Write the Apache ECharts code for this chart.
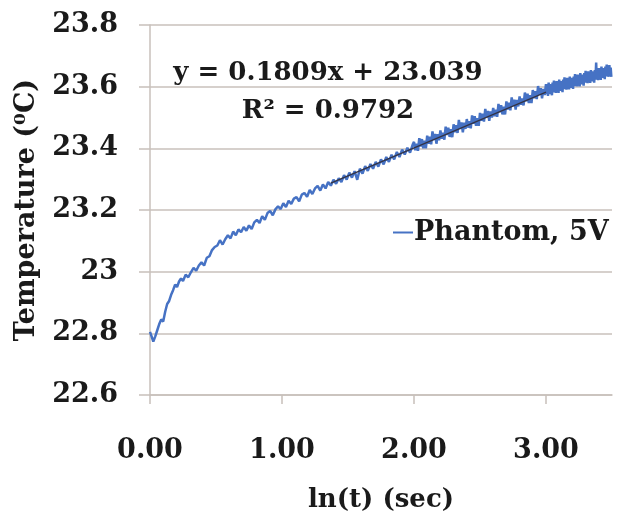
<!DOCTYPE html>
<html>
<head>
<meta charset="utf-8">
<script src="https://cdn.jsdelivr.net/npm/echarts@6/dist/echarts.min.js"></script>
<style>html,body{margin:0;padding:0;background:#fff;}#chart{width:618px;height:517px;}</style>
</head>
<body>
<div id="chart"></div>
<script>
// ---- data ----
const seriesName = 'Phantom, 5V';
const xTitle = 'ln(t) (sec)';
const yTitle = 'Temperature (\u2070C)';
const eqLine1 = 'y = 0.1809x + 23.039';
const eqLine2 = 'R\u00B2 = 0.9792';
const xTicks = [0, 1, 2, 3];
const yRange = [22.6, 23.8];

const segA = [[0.000,22.805],[0.012,22.79],[0.025,22.773],[0.04,22.79],[0.055,22.81],[0.07,22.83],[0.085,22.845],[0.1,22.838],[0.115,22.87],[0.13,22.895],[0.145,22.905],[0.16,22.925],[0.175,22.94],[0.19,22.958],[0.205,22.95],[0.22,22.968],[0.235,22.978],[0.25,22.97],[0.27,22.99],[0.29,22.982],[0.31,22.998],[0.33,23.012],[0.35,23.003],[0.37,23.02],[0.39,23.03],[0.41,23.02],[0.43,23.045],[0.45,23.05],[0.47,23.07],[0.49,23.08],[0.51,23.085],[0.53,23.102],[0.55,23.088],[0.57,23.105],[0.59,23.118],[0.61,23.108],[0.63,23.13],[0.65,23.118],[0.67,23.137],[0.69,23.128],[0.71,23.145],[0.73,23.133],[0.75,23.15],[0.77,23.138],[0.79,23.16],[0.81,23.168],[0.83,23.158],[0.85,23.18],[0.87,23.168],[0.89,23.19],[0.91,23.197],[0.93,23.183],[0.95,23.202],[0.97,23.212],[0.99,23.203]];

const segB = [[1.01,23.222],[1.03,23.21],[1.05,23.23],[1.07,23.22],[1.09,23.237],[1.11,23.242],[1.13,23.228],[1.15,23.25],[1.17,23.255],[1.19,23.243],[1.21,23.265],[1.23,23.252],[1.25,23.27],[1.27,23.278],[1.29,23.263],[1.31,23.283],[1.33,23.27],[1.35,23.291],[1.37,23.279],[1.39,23.298],[1.41,23.285],[1.43,23.303],[1.45,23.291],[1.47,23.313],[1.49,23.299],[1.51,23.321],[1.53,23.305],[1.55,23.326],[1.57,23.298],[1.59,23.334],[1.61,23.318],[1.63,23.342],[1.65,23.327],[1.67,23.349],[1.69,23.334],[1.71,23.356],[1.73,23.341],[1.75,23.364],[1.77,23.348],[1.79,23.372],[1.81,23.356],[1.83,23.379],[1.85,23.364],[1.87,23.388],[1.89,23.372],[1.91,23.396],[1.93,23.38],[1.95,23.402],[1.97,23.386],[1.99,23.412]];

const segC = [[2.00,23.421],[2.01,23.394],[2.02,23.415],[2.03,23.392],[2.04,23.433],[2.05,23.406],[2.06,23.430],[2.07,23.400],[2.08,23.425],[2.09,23.400],[2.10,23.441],[2.11,23.415],[2.12,23.438],[2.13,23.413],[2.14,23.455],[2.15,23.427],[2.16,23.447],[2.17,23.415],[2.18,23.446],[2.19,23.426],[2.20,23.458],[2.21,23.431],[2.22,23.451],[2.23,23.428],[2.24,23.470],[2.25,23.443],[2.26,23.467],[2.27,23.437],[2.28,23.462],[2.29,23.436],[2.30,23.478],[2.31,23.452],[2.32,23.475],[2.33,23.450],[2.34,23.492],[2.35,23.463],[2.36,23.484],[2.37,23.452],[2.38,23.483],[2.39,23.463],[2.40,23.495],[2.41,23.467],[2.42,23.488],[2.43,23.465],[2.44,23.507],[2.45,23.480],[2.46,23.504],[2.47,23.473],[2.48,23.498],[2.49,23.473],[2.50,23.515],[2.51,23.489],[2.52,23.512],[2.53,23.487],[2.54,23.528],[2.55,23.500],[2.56,23.521],[2.57,23.489],[2.58,23.520],[2.59,23.500],[2.60,23.531],[2.61,23.504],[2.62,23.525],[2.63,23.502],[2.64,23.544],[2.65,23.517],[2.66,23.540],[2.67,23.510],[2.68,23.535],[2.69,23.510],[2.70,23.552],[2.71,23.526],[2.72,23.548],[2.73,23.523],[2.74,23.565],[2.75,23.537],[2.76,23.558],[2.77,23.526],[2.78,23.557],[2.79,23.536],[2.80,23.568],[2.81,23.541],[2.82,23.562],[2.83,23.539],[2.84,23.581],[2.85,23.553],[2.86,23.577],[2.87,23.547],[2.88,23.572],[2.89,23.547],[2.90,23.589],[2.91,23.562],[2.92,23.585],[2.93,23.560],[2.94,23.602],[2.95,23.574],[2.96,23.595],[2.97,23.562],[2.98,23.593],[2.99,23.573]];

const segD = [[3.000,23.608],[3.005,23.576],[3.010,23.599],[3.015,23.570],[3.020,23.613],[3.025,23.583],[3.030,23.608],[3.035,23.576],[3.040,23.601],[3.045,23.572],[3.050,23.613],[3.055,23.585],[3.060,23.620],[3.065,23.581],[3.070,23.609],[3.075,23.580],[3.080,23.618],[3.085,23.586],[3.090,23.610],[3.095,23.580],[3.100,23.623],[3.105,23.594],[3.110,23.618],[3.115,23.586],[3.120,23.612],[3.125,23.582],[3.130,23.623],[3.135,23.596],[3.140,23.630],[3.145,23.592],[3.150,23.620],[3.155,23.590],[3.160,23.629],[3.165,23.596],[3.170,23.620],[3.175,23.591],[3.180,23.633],[3.185,23.604],[3.190,23.629],[3.195,23.596],[3.200,23.622],[3.205,23.593],[3.210,23.633],[3.215,23.606],[3.220,23.641],[3.225,23.602],[3.230,23.630],[3.235,23.601],[3.240,23.639],[3.245,23.607],[3.250,23.631],[3.255,23.601],[3.260,23.644],[3.265,23.614],[3.270,23.639],[3.275,23.607],[3.280,23.632],[3.285,23.603],[3.290,23.644],[3.295,23.616],[3.300,23.651],[3.305,23.613],[3.310,23.640],[3.315,23.611],[3.320,23.650],[3.325,23.617],[3.330,23.641],[3.335,23.612],[3.340,23.654],[3.345,23.625],[3.350,23.650],[3.355,23.617],[3.360,23.643],[3.365,23.613],[3.370,23.654],[3.375,23.627],[3.380,23.678],[3.385,23.623],[3.390,23.651],[3.395,23.621],[3.400,23.660],[3.405,23.628],[3.410,23.651],[3.415,23.622],[3.420,23.665],[3.425,23.635],[3.430,23.660],[3.435,23.628],[3.440,23.653],[3.445,23.624],[3.450,23.665],[3.455,23.637],[3.460,23.672],[3.465,23.633],[3.470,23.661],[3.475,23.632],[3.480,23.670],[3.485,23.638],[3.490,23.662],[3.495,23.632]];

const trendLine = [[1.37, 23.287], [3.0, 23.582]];

// ---- chart ----
const FONT = 'DejaVu Serif';
const TXT = '#1a1a1a';
const GRID = '#c8c0bb';
const measured = segA.concat(segB, segC, segD);

const chart = echarts.init(document.getElementById('chart'), null, {renderer: 'canvas'});
chart.setOption({
  animation: false,
  backgroundColor: '#ffffff',
  grid: {left: 150, right: 6, top: 25, bottom: 122, containLabel: false, outerBoundsMode: 'none'},
  legend: {
    data: [seriesName],
    left: 388, top: 214,
    icon: 'rect', itemWidth: 20, itemHeight: 2, itemGap: 0,
    textStyle: {fontFamily: FONT, fontWeight: 'bold', fontSize: 27, color: TXT, padding: [0,0,0,-4]}
  },
  xAxis: {
    type: 'value', min: 0, max: 3.5, interval: 1,
    name: xTitle, nameLocation: 'middle', nameGap: 92,
    nameTextStyle: {fontFamily: FONT, fontWeight: 'bold', fontSize: 26, color: TXT},
    axisLine: {show: true, lineStyle: {color: GRID, width: 1.5}},
    axisTick: {show: true, length: 9, lineStyle: {color: GRID, width: 1.5}, customValues: xTicks},
    axisLabel: {fontFamily: FONT, fontWeight: 'bold', fontSize: 27, color: TXT, margin: 42,
      customValues: xTicks, formatter: v => v.toFixed(2)},
    splitLine: {show: false}
  },
  yAxis: {
    type: 'value', min: yRange[0], max: yRange[1], interval: 0.2,
    name: yTitle, nameLocation: 'middle', nameRotate: 90, nameGap: 110,
    nameTextStyle: {fontFamily: FONT, fontWeight: 'bold', fontSize: 27, color: TXT},
    axisLine: {show: true, lineStyle: {color: GRID, width: 1.5}},
    axisTick: {show: true, length: 11, lineStyle: {color: GRID, width: 1.5}},
    axisLabel: {fontFamily: FONT, fontWeight: 'bold', fontSize: 27, color: TXT, margin: 32,
      formatter: v => (Math.abs(v - Math.round(v)) < 1e-9 ? String(Math.round(v)) : v.toFixed(1))},
    splitLine: {show: true, lineStyle: {color: GRID, width: 1.5}}
  },
  series: [
    {name: seriesName, type: 'line', data: measured, showSymbol: false, symbol: 'none',
      lineStyle: {color: '#4672c4', width: 2.5}, itemStyle: {color: '#4672c4'}, z: 2},
    {name: 'Linear fit', type: 'line', data: trendLine, showSymbol: false, symbol: 'none',
      lineStyle: {color: '#333344', width: 1.3}, z: 3, silent: true}
  ],
  graphic: [
    {type: 'text', x: 328, y: 73, style: {text: eqLine1, align: 'center', verticalAlign: 'middle',
      font: 'bold 26px "DejaVu Serif"', fill: TXT}, z: 10},
    {type: 'text', x: 328, y: 111, style: {text: eqLine2, align: 'center', verticalAlign: 'middle',
      font: 'bold 26px "DejaVu Serif"', fill: TXT}, z: 10}
  ]
});
</script>
</body>
</html>
